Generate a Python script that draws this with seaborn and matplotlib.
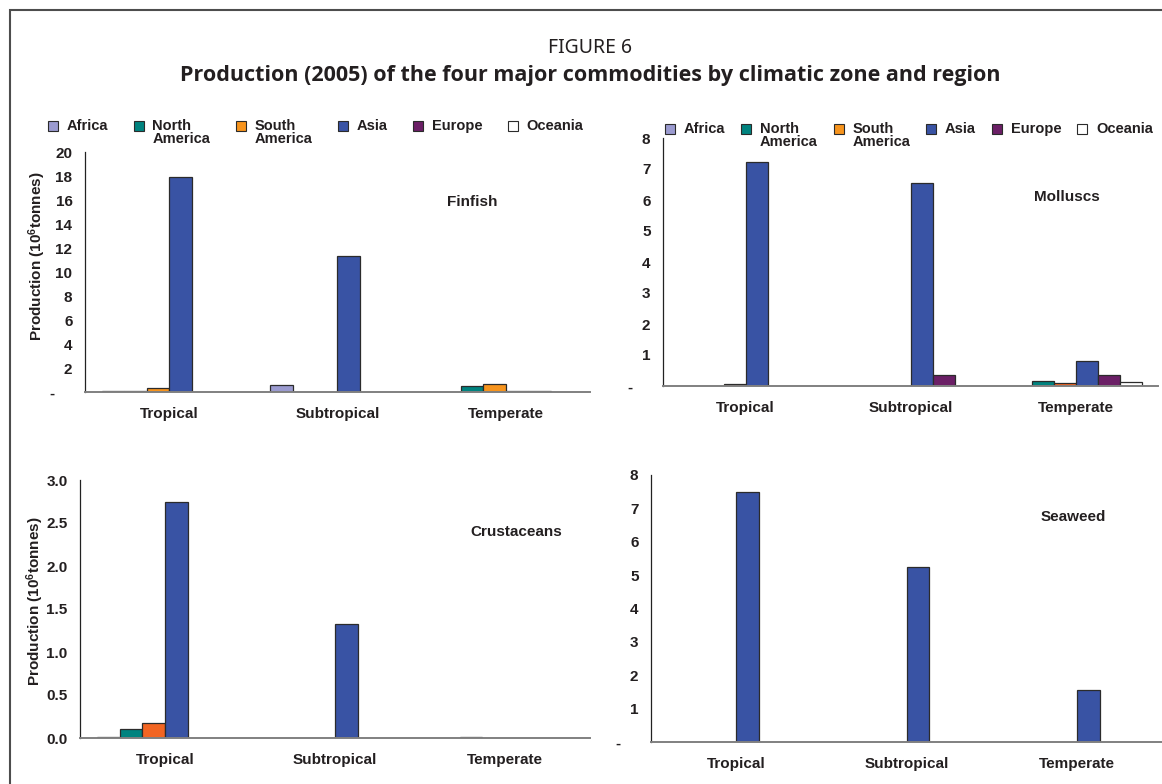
import matplotlib

matplotlib.use("Agg")
import matplotlib.patches as mpatches
import matplotlib.pyplot as plt
import pandas as pd
import seaborn as sns
from matplotlib.legend_handler import HandlerPatch

ZONES = ["Tropical", "Subtropical", "Temperate"]
REGIONS = ["Africa", "North America", "South America", "Asia", "Europe", "Oceania"]
LEGEND_LABELS = ["Africa\n", "North\nAmerica", "South\nAmerica", "Asia\n", "Europe\n", "Oceania\n"]

# production, 10^6 tonnes; one row per region, columns follow ZONES
FINFISH = [
    [0.1, 0.6, 0.0],
    [0.1, 0.0, 0.53],
    [0.33, 0.0, 0.64],
    [17.9, 11.3, 0.1],
    [0.0, 0.0, 0.1],
    [0.0, 0.0, 0.0],
]
MOLLUSCS = [
    [0.0, 0.0, 0.0],
    [0.0, 0.0, 0.17],
    [0.05, 0.0, 0.11],
    [7.22, 6.56, 0.82],
    [0.0, 0.36, 0.36],
    [0.0, 0.0, 0.12],
]
CRUSTACEANS = [
    [0.01, 0.0, 0.0],
    [0.11, 0.0, 0.015],
    [0.17, 0.0, 0.0],
    [2.75, 1.32, 0.0],
    [0.0, 0.0, 0.0],
    [0.0, 0.0, 0.0],
]
SEAWEED = [
    [0.0, 0.0, 0.0],
    [0.0, 0.0, 0.0],
    [0.0, 0.0, 0.0],
    [7.5, 5.25, 1.57],
    [0.0, 0.0, 0.0],
    [0.0, 0.0, 0.0],
]

FINFISH_TICKS = [0, 2, 4, 6, 8, 10, 12, 14, 16, 18, 20]
COUNT_TICKS = [0, 1, 2, 3, 4, 5, 6, 7, 8]
CRUSTACEAN_TICKS = [0.0, 0.5, 1.0, 1.5, 2.0, 2.5, 3.0]

COLORS = {
    "Africa": "#9b9bd0",
    "North America": "#00837f",
    "South America": "#f7941d",
    "Asia": "#3953a4",
    "Europe": "#6b1f66",
    "Oceania": "#ffffff",
}
COLORS_RED_ORANGE = {**COLORS, "South America": "#f26522"}
EDGE = "#2b2b2b"
TEXT = "#231f20"
W, H = 1162, 784


def caja(x, y, w, h):
    # pixel box (top-left origin) -> figure fraction
    return [x / W, 1 - (y + h) / H, w / W, h / H]


def cuadro_elevado(legend, orig_handle, xdescent, ydescent, width, height, fontsize):
    lado = 0.68 * fontsize
    return mpatches.Rectangle((-xdescent, -ydescent + 0.5 * fontsize), lado, lado)


def dibujar_panel(ax, valores, ticks, etiquetas, nombre, pos_nombre, palette, ylabel):
    df = pd.DataFrame(
        [
            (zona, region, v)
            for region, fila in zip(REGIONS, valores)
            for zona, v in zip(ZONES, fila)
            if v > 0
        ],
        columns=["zona", "region", "produccion"],
    )
    sns.barplot(
        data=df,
        x="zona",
        y="produccion",
        hue="region",
        order=ZONES,
        hue_order=REGIONS,
        palette=palette,
        saturation=1,
        dodge=True,
        edgecolor=EDGE,
        linewidth=0.9,
        width=0.8,
        errorbar=None,
        legend=False,
        ax=ax,
    )
    ax.set_xlim(-0.5, 2.5)
    ax.set_ylim(ticks[0], ticks[-1])
    ax.set_yticks(ticks, etiquetas)
    ax.set_xticks(range(len(ZONES)), ZONES)
    ax.set_xticks([-0.5, 0.5, 1.5, 2.5], minor=True)
    ax.tick_params(axis="x", which="major", length=0, pad=11)
    ax.tick_params(axis="x", which="minor", length=4, width=1, color="#333333")
    ax.tick_params(axis="y", length=4, width=0.8, color="#333333", pad=5)
    for lab in ax.get_xticklabels() + ax.get_yticklabels():
        lab.set_fontweight("bold")
        lab.set_fontsize(11)
        lab.set_color(TEXT)
    ax.spines[["top", "right"]].set_visible(False)
    ax.spines["left"].set_color("#222222")
    ax.spines["left"].set_linewidth(0.9)
    ax.spines["bottom"].set_color("#808080")
    ax.spines["bottom"].set_linewidth(1.4)
    ax.set_xlabel("")
    if ylabel:
        ax.set_ylabel("Production (10$^{6}$tonnes)", fontsize=11, fontweight="bold", color=TEXT)
    else:
        ax.set_ylabel("")
    ax.text(*pos_nombre, nombre, transform=ax.transAxes, ha="center", va="center",
            fontsize=11, fontweight="bold", color=TEXT)


def leyenda(ax, fig, x, y, espacio):
    handles = [mpatches.Patch(facecolor=COLORS[r], edgecolor=EDGE, linewidth=0.8) for r in REGIONS]
    leg = ax.legend(
        handles,
        LEGEND_LABELS,
        ncol=6,
        loc="upper left",
        bbox_to_anchor=(x / W, 1 - y / H),
        bbox_transform=fig.transFigure,
        frameon=False,
        prop={"weight": "bold", "size": 10.5},
        handlelength=0.68,
        handleheight=0.68,
        handletextpad=0.6,
        columnspacing=espacio,
        borderpad=0,
        borderaxespad=0,
        handler_map={mpatches.Patch: HandlerPatch(patch_func=cuadro_elevado)},
    )
    for t in leg.get_texts():
        t.set_linespacing(0.95)
        t.set_color(TEXT)


sns.set_style("white")
plt.rcParams["font.family"] = ["Liberation Sans", "DejaVu Sans"]
plt.rcParams["mathtext.fontset"] = "custom"
plt.rcParams["mathtext.rm"] = "Liberation Sans:bold"
plt.rcParams["mathtext.it"] = "Liberation Sans:bold"
plt.rcParams["mathtext.bf"] = "Liberation Sans:bold"

fig = plt.figure(figsize=(W / 100, H / 100), dpi=100)

ax1 = fig.add_axes(caja(85, 152, 505, 240))
ax2 = fig.add_axes(caja(663, 138, 495, 248))
ax3 = fig.add_axes(caja(80, 480, 510, 258))
ax4 = fig.add_axes(caja(651, 475, 511, 267))

dibujar_panel(ax1, FINFISH, FINFISH_TICKS, ["-    "] + [str(t) for t in FINFISH_TICKS[1:]],
              "Finfish", (0.766, 0.79), COLORS, True)
dibujar_panel(ax2, MOLLUSCS, COUNT_TICKS, ["-    "] + [str(t) for t in COUNT_TICKS[1:]],
              "Molluscs", (0.815, 0.762), COLORS_RED_ORANGE, False)
dibujar_panel(ax3, CRUSTACEANS, CRUSTACEAN_TICKS, [f"{t:.1f}" for t in CRUSTACEAN_TICKS],
              "Crustaceans", (0.855, 0.798), COLORS_RED_ORANGE, True)
dibujar_panel(ax4, SEAWEED, COUNT_TICKS, ["-    "] + [str(t) for t in COUNT_TICKS[1:]],
              "Seaweed", (0.826, 0.843), COLORS, False)

ax1.yaxis.set_label_coords(-0.073, 0.567)
ax3.yaxis.set_label_coords(-0.066, 0.53)

leyenda(ax1, fig, 48, 119, 1.75)
leyenda(ax2, fig, 665, 122, 1.1)

fig.text(590 / W, 1 - 48 / H, "FIGURE 6", ha="center", va="center",
         family=["Noto Sans", "DejaVu Sans"], fontsize=14, color=TEXT)
fig.text(590 / W, 1 - 75 / H,
         "Production (2005) of the four major commodities by climatic zone and region",
         ha="center", va="center", family=["Open Sans", "DejaVu Sans"], fontsize=15.5,
         fontweight="bold", color=TEXT)

fig.add_artist(mpatches.Rectangle((10 / W, -0.1), 1.2, 1 - 10 / H + 0.1, transform=fig.transFigure,
                                  fill=False, edgecolor="#4d4d4d", linewidth=1.5))

fig.savefig("out.png", dpi=100)
